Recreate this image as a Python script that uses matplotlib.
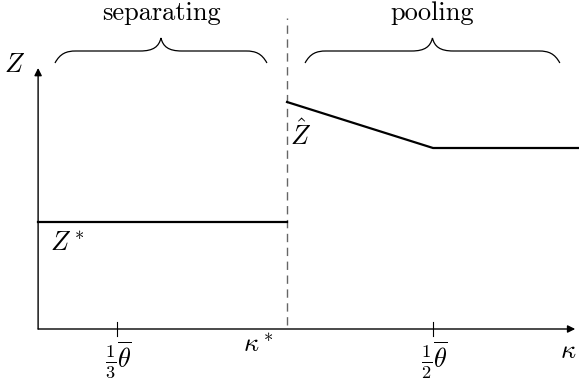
import numpy as np
import matplotlib.pyplot as plt
from matplotlib.path import Path
from matplotlib.patches import PathPatch

plt.rcParams['mathtext.fontset'] = 'cm'
plt.rcParams['font.family'] = 'cmr10'
plt.rcParams['axes.formatter.use_mathtext'] = True

# kappa axis (theta = 1), Z axis in arbitrary units
k_origin = 0.2917
k_end = 0.575
k_star = 0.423
k_ticks = [1/3, 1/2]
k_ticklabels = [r'$\frac{1}{3}\overline{\theta}$', r'$\frac{1}{2}\overline{\theta}$']

z_top = 2.61
z_star = 1.07
zhat_k = [k_star, 1/2, 0.5775]
zhat_z = [2.27, 1.81, 1.81]

fs = 19

fig = plt.figure(figsize=(5.79, 3.90), dpi=100)
ax = fig.add_axes([0, 0, 1, 1])
ax.set_xlim(0.2716, 0.5770)
ax.set_ylim(-0.61, 3.29)
ax.axis('off')

# axes with arrows
ax.annotate('', xy=(k_end, 0), xytext=(k_origin, 0),
            arrowprops=dict(arrowstyle='-|>', lw=1.0, color='black',
                            mutation_scale=11, shrinkA=0, shrinkB=0))
ax.annotate('', xy=(k_origin, z_top), xytext=(k_origin, 0),
            arrowprops=dict(arrowstyle='-|>', lw=1.0, color='black',
                            mutation_scale=11, shrinkA=0, shrinkB=0))

for k, lab in zip(k_ticks, k_ticklabels):
    ax.plot([k, k], [-0.07, 0.07], color='black', lw=0.8)
    ax.text(k + 0.001, -0.31, lab, ha='center', va='center', fontsize=fs)

ax.text(0.2795, 2.64, r'$Z$', ha='center', va='center', fontsize=fs)
ax.text(0.5715, -0.22, r'$\kappa$', ha='center', va='center', fontsize=fs)
ax.text(0.4077, -0.16, r'$\kappa^*$', ha='center', va='center', fontsize=fs)

# kappa* dashed line
ax.plot([k_star, k_star], [0.04, 3.11], color='#666666', lw=1.0,
        dashes=(6, 4))

# Z* and Z hat
ax.plot([k_origin, k_star], [z_star, z_star], color='black', lw=1.6)
ax.text(0.3070, 0.86, r'$Z^*$', ha='center', va='center', fontsize=fs)
ax.plot(zhat_k, zhat_z, color='black', lw=1.6)
ax.text(0.4299, 1.94, r'$\hat{Z}$', ha='center', va='center', fontsize=fs)


def brace(x0, x1, yb, ym, yt, a):
    xm = (x0 + x1) / 2
    verts = [(x0, yb),
             (x0 + a * 0.25, yb + (ym - yb) * 0.8), (x0 + a * 0.55, ym), (x0 + a, ym),
             (xm - a, ym),
             (xm - a * 0.35, ym), (xm - a * 0.1, ym + (yt - ym) * 0.35), (xm, yt),
             (xm + a * 0.1, ym + (yt - ym) * 0.35), (xm + a * 0.35, ym), (xm + a, ym),
             (x1 - a, ym),
             (x1 - a * 0.55, ym), (x1 - a * 0.25, yb + (ym - yb) * 0.8), (x1, yb)]
    codes = [Path.MOVETO,
             Path.CURVE4, Path.CURVE4, Path.CURVE4,
             Path.LINETO,
             Path.CURVE4, Path.CURVE4, Path.CURVE4,
             Path.CURVE4, Path.CURVE4, Path.CURVE4,
             Path.LINETO,
             Path.CURVE4, Path.CURVE4, Path.CURVE4]
    ax.add_patch(PathPatch(Path(verts, codes), fill=False, lw=0.9, color='black'))


brace(0.3006, 0.4124, 2.66, 2.78, 2.91, 0.011)
brace(0.4325, 0.5669, 2.66, 2.78, 2.91, 0.011)
ax.text((0.3006 + 0.4124) / 2, 3.16, 'separating', ha='center', va='center', fontsize=fs)
ax.text((0.4325 + 0.5669) / 2, 3.16, 'pooling', ha='center', va='center', fontsize=fs)

fig.savefig('out.png', dpi=100)
